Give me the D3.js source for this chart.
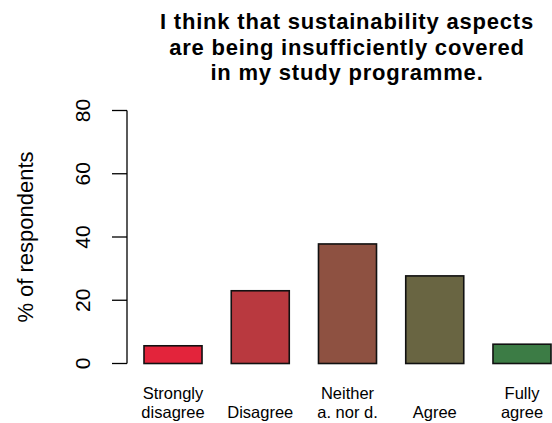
<!DOCTYPE html>
<html>
<head>
<meta charset="utf-8">
<script src="https://d3js.org/d3.v7.min.js"></script>
<style>
  body { margin: 0; background: #fff; }
  text { font-family: "Liberation Sans", Arial, sans-serif; fill: #000; }
</style>
</head>
<body>
<div id="chart"></div>
<script>
// data
var categories = ["Strongly\ndisagree", "Disagree", "Neither\na. nor d.", "Agree", "Fully\nagree"];
var values = [5.6, 23.0, 37.8, 27.7, 6.1];
var colors = ["#E3243B", "#B9393F", "#8E5141", "#696542", "#3C7C45"];
var yTicks = [0, 20, 40, 60, 80];
var titleLines = ["I think that sustainability aspects", "are being insufficiently covered", "in my study programme."];

var width = 552, height = 423;

var svg = d3.select("#chart")
	.append("svg")
		.attr("width", width)
		.attr("height", height);

var x = d3.scaleBand()
	.domain(categories)
	.range([144, 551])
	.paddingInner(0.335)
	.paddingOuter(0);

var y = d3.scaleLinear()
	.domain([0, 80])
	.range([363.5, 110.5]);

// y axis, R style: line over tick range, ticks to the left
var axis = svg.append("g").attr("transform", "translate(127,0)");
axis.append("line")
	.attr("x1", 0).attr("x2", 0)
	.attr("y1", y(0)).attr("y2", y(80))
	.attr("stroke", "#000").attr("stroke-width", 1.3);
axis.selectAll("line.tick")
	.data(yTicks)
	.enter().append("line")
		.attr("class", "tick")
		.attr("x1", -15).attr("x2", 0)
		.attr("y1", function(d) { return y(d); })
		.attr("y2", function(d) { return y(d); })
		.attr("stroke", "#000").attr("stroke-width", 1.3);
axis.selectAll("text")
	.data(yTicks)
	.enter().append("text")
		.attr("transform", function(d) { return "translate(-37," + y(d) + ") rotate(-90)"; })
		.attr("text-anchor", "middle")
		.style("font-size", "21px")
		.text(function(d) { return d; });

// y label
svg.append("text")
	.attr("transform", "translate(33,237) rotate(-90)")
	.attr("text-anchor", "middle")
	.style("font-size", "22px")
	.text("% of respondents");

// bars
svg.append("g")
	.selectAll("rect")
	.data(values)
	.enter().append("rect")
		.attr("x", function(d, i) { return x(categories[i]); })
		.attr("y", function(d) { return y(d); })
		.attr("width", x.bandwidth())
		.attr("height", function(d) { return y(0) - y(d); })
		.attr("fill", function(d, i) { return colors[i]; })
		.attr("stroke", "#111")
		.attr("stroke-width", 1.6);

// category labels, bottom aligned
svg.append("g")
	.selectAll("text")
	.data(categories)
	.enter().append("text")
		.attr("text-anchor", "middle")
		.style("font-size", "16.5px")
		.each(function(d) {
			var lines = d.split("\n");
			var t = d3.select(this);
			lines.forEach(function(l, j) {
				t.append("tspan")
					.attr("x", x(d) + x.bandwidth() / 2)
					.attr("y", 418 - (lines.length - 1 - j) * 19)
					.text(l);
			});
		});

// title
svg.append("g")
	.selectAll("text")
	.data(titleLines)
	.enter().append("text")
		.attr("x", 347)
		.attr("y", function(d, i) { return 29 + i * 25.5; })
		.attr("text-anchor", "middle")
		.style("font-size", "22px")
		.style("letter-spacing", "0.8px")
		.style("font-weight", "bold")
		.text(function(d) { return d; });
</script>
</body>
</html>
